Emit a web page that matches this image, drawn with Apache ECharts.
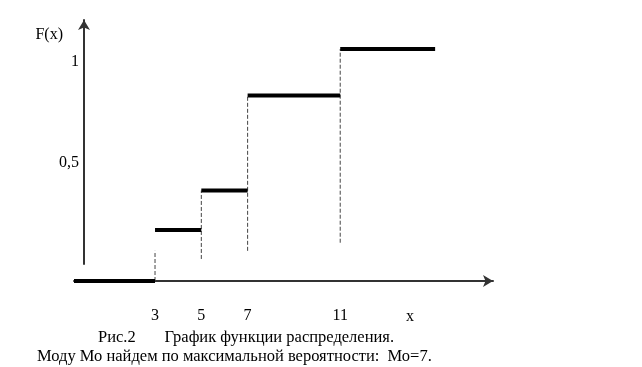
<!DOCTYPE html>
<html>
<head>
<meta charset="utf-8">
<script src="https://cdn.jsdelivr.net/npm/echarts@6/dist/echarts.min.js"></script>
<style>
html,body{margin:0;padding:0;background:#fff;}
#c{width:642px;height:367px;}
</style>
</head>
<body>
<div id="c"></div>
<script>
// --- data ---
const xTickValues = [3, 5, 7, 11];
const xAxisName = 'x';
const yTickValues = [0.5, 1];
const yAxisName = 'F(x)';
const stepBounds = [-0.5, 3, 5, 7, 11, 15.1];
const stepF = [0, 0.22, 0.39, 0.80, 1.0];
const dashX = [3, 5, 7, 11];
const dashTop = [0.13, 0.39, 0.80, 1.0];
const dashBottom = [0, 0.095, 0.13, 0.165];
const caption1 = 'Рис.2       График функции распределения.';
const caption2 = 'Моду Мо найдем по максимальной вероятности:  Мо=7.';

const FONT = 'Liberation Serif';
const txt = {fontFamily: FONT, fontSize: 16, color: '#000', fontWeight: 'normal'};
const capTxt = {fontFamily: FONT, fontSize: 16.5, color: '#000', fontWeight: 'normal'};

const series = [];
stepF.forEach((f, i) => {
  series.push({
    type: 'line', xAxisIndex: 0, yAxisIndex: 0, silent: true, symbol: 'none', z: 5,
    lineStyle: {color: '#000', width: 4, cap: 'butt'},
    data: [[stepBounds[i], f], [stepBounds[i + 1], f]]
  });
});
dashX.forEach((x, i) => {
  series.push({
    type: 'line', xAxisIndex: 0, yAxisIndex: 0, silent: true, symbol: 'none', z: 3,
    lineStyle: {color: '#444', width: 1, type: [4, 2]},
    data: [[x, dashBottom[i]], [x, dashTop[i]]]
  });
});

const chart = echarts.init(document.getElementById('c'), null, {renderer: 'canvas'});
chart.setOption({
  animation: false,
  backgroundColor: '#fff',
  title: [
    {text: caption1, left: 98, top: 329, padding: 0, textStyle: capTxt},
    {text: caption2, left: 37, top: 348, padding: 0, textStyle: capTxt}
  ],
  grid: [
    {left: 74, width: 419, top: 49, height: 232},
    {left: 84, width: 300, top: 20, height: 244}
  ],
  xAxis: [
    {
      type: 'value', gridIndex: 0, min: -0.5, max: 17.6,
      name: xAxisName, nameLocation: 'end', nameGap: -83,
      nameTextStyle: Object.assign({}, txt, {align: 'center', verticalAlign: 'top', padding: [28, 0, 0, 0]}),
      axisLine: {show: true, onZero: false, symbol: ['none', 'arrow'], symbolSize: [9, 10],
                 lineStyle: {color: '#333', width: 2}},
      axisTick: {show: false},
      splitLine: {show: false},
      axisLabel: Object.assign({}, txt, {customValues: xTickValues, margin: 27})
    },
    {type: 'value', gridIndex: 1, show: false, min: 0, max: 1}
  ],
  yAxis: [
    {type: 'value', gridIndex: 0, show: false, min: 0, max: 1},
    {
      type: 'value', gridIndex: 1, min: 0, max: 1.208,
      name: yAxisName, nameLocation: 'end', nameGap: -15,
      nameTextStyle: Object.assign({}, txt, {align: 'right', verticalAlign: 'middle', padding: [0, 21, 0, 0]}),
      axisLine: {show: true, onZero: false, symbol: ['none', 'arrow'], symbolSize: [9, 10],
                 lineStyle: {color: '#333', width: 2}},
      axisTick: {show: false},
      splitLine: {show: false},
      axisLabel: Object.assign({}, txt, {customValues: yTickValues, margin: 5,
        formatter: v => String(v).replace('.', ',')})
    }
  ],
  series: series
});
</script>
</body>
</html>
